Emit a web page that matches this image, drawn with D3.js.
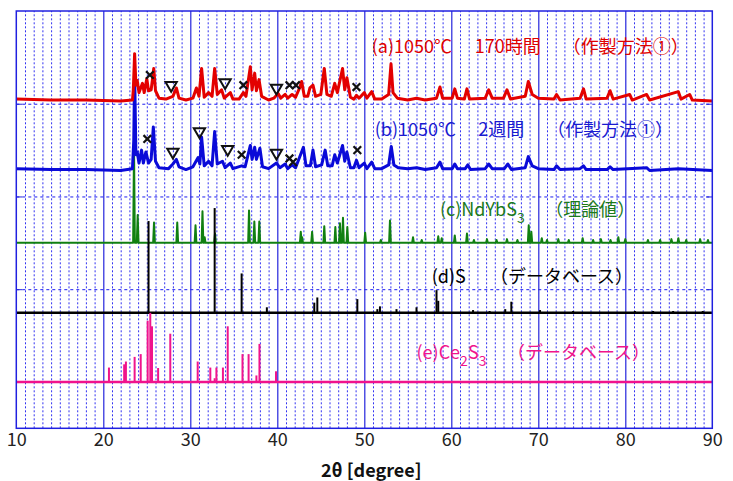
<!DOCTYPE html>
<html>
<head>
<meta charset="utf-8">
<script src="https://cdn.jsdelivr.net/npm/d3@7"></script>
<style>
  body { margin: 0; background: #fff; }
  text { font-family: "Noto Sans CJK JP", "Noto Sans", sans-serif; }
</style>
</head>
<body>
<div id="chart"></div>
<script>
/* CONSTANTS AND GLOBALS */
const width = 733,
  height = 481,
  margin = { top: 11, bottom: 52.7, left: 16.3, right: 20.7 };

// x ticks (2theta)
const xTicks = [10, 20, 30, 40, 50, 60, 70, 80, 90];
const xMinor = d3.range(11, 90).filter(d => d % 10 !== 0);
const yGrid = [0, 1, 2, 3];

// (a) 1050C 170h  -- measured profile [2theta, level]
const redProfile = [
  [10, 3.05], [14, 3.04], [18, 3.04], [22, 3.03], [23.35, 3.04], [23.45, 3.15], [23.6, 3.54], [23.75, 3.2],
  [23.9, 3.25], [24.1, 3.12], [24.5, 3.22], [24.7, 3.12], [25.0, 3.27], [25.2, 3.14], [25.5, 3.15],
  [25.8, 3.38], [26.0, 3.14], [26.4, 3.06], [27.2, 3.05], [28.0, 3.08], [28.4, 3.17], [28.7, 3.06],
  [29.5, 3.04], [30.3, 3.06], [30.7, 3.17], [31.0, 3.08], [31.3, 3.38], [31.6, 3.07], [32.1, 3.12],
  [32.5, 3.08], [32.8, 3.38], [33.1, 3.1], [33.6, 3.15], [33.9, 3.06], [34.6, 3.12], [34.9, 3.05],
  [35.6, 3.05], [36.1, 3.12], [36.4, 3.08], [36.9, 3.40], [37.1, 3.15], [37.4, 3.33], [37.6, 3.14],
  [37.9, 3.26], [38.2, 3.08], [39.0, 3.04], [39.6, 3.06], [40.1, 3.11], [40.4, 3.06], [40.9, 3.1],
  [41.2, 3.06], [41.7, 3.1], [42.1, 3.07], [42.6, 3.18], [42.8, 3.24], [43.1, 3.08], [43.5, 3.08],
  [43.75, 3.17], [44.1, 3.2], [44.4, 3.08], [45.0, 3.1], [45.4, 3.38], [45.7, 3.1], [46.2, 3.08],
  [46.6, 3.22], [46.9, 3.12], [47.5, 3.38], [47.75, 3.15], [48.0, 3.28], [48.4, 3.07], [48.8, 3.05],
  [49.1, 3.09], [49.4, 3.06], [50.0, 3.12], [50.3, 3.06], [50.85, 3.13], [51.2, 3.05], [52.0, 3.05],
  [52.8, 3.1], [53.07, 3.43], [53.3, 3.12], [53.8, 3.06], [55.0, 3.04], [56.0, 3.06], [57.0, 3.04],
  [58.3, 3.06], [58.7, 3.18], [59.0, 3.06], [60.1, 3.06], [60.4, 3.16], [60.7, 3.06], [61.5, 3.05],
  [61.8, 3.16], [62.1, 3.05], [63.9, 3.06], [64.3, 3.15], [64.7, 3.06], [66.0, 3.06], [66.4, 3.15],
  [66.8, 3.05], [68.5, 3.08], [68.85, 3.24], [69.3, 3.1], [70.0, 3.06], [71.8, 3.05], [72.1, 3.1],
  [72.5, 3.04], [74.8, 3.06], [75.2, 3.16], [75.5, 3.05], [77.9, 3.06], [78.25, 3.14], [78.6, 3.05],
  [80.5, 3.1], [80.8, 3.04], [82.45, 3.1], [82.8, 3.04], [86.1, 3.13], [86.4, 3.05], [87.4, 3.1],
  [87.7, 3.04], [90, 3.03]
];

// (b) 1050C 2 weeks
const blueProfile = [
  [10, 2.3], [14, 2.29], [18, 2.29], [22, 2.28], [23.35, 2.3], [23.5, 2.6], [23.6, 3.34], [23.75, 2.45],
  [23.9, 2.48], [24.1, 2.36], [24.4, 2.5], [24.6, 2.36], [24.9, 2.48], [25.2, 2.36], [25.5, 2.4],
  [25.75, 2.75], [26.0, 2.38], [26.4, 2.31], [27.5, 2.3], [28.0, 2.35], [28.4, 2.4], [28.7, 2.32],
  [29.5, 2.29], [30.3, 2.32], [30.9, 2.42], [31.1, 2.35], [31.3, 2.64], [31.6, 2.33], [32.1, 2.38],
  [32.5, 2.33], [32.8, 2.7], [33.1, 2.35], [33.7, 2.38], [34.0, 2.31], [34.6, 2.36], [34.9, 2.3],
  [35.9, 2.33], [36.3, 2.32], [36.9, 2.55], [37.1, 2.4], [37.4, 2.53], [37.6, 2.4], [38.0, 2.52],
  [38.3, 2.32], [39.0, 2.3], [39.9, 2.36], [40.3, 2.31], [40.9, 2.35], [41.2, 2.3], [41.7, 2.34],
  [42.1, 2.31], [43.0, 2.53], [43.3, 2.33], [43.8, 2.33], [44.1, 2.5], [44.4, 2.32], [45.1, 2.34],
  [45.5, 2.5], [45.8, 2.33], [46.3, 2.33], [46.6, 2.45], [46.9, 2.36], [47.5, 2.55], [47.75, 2.38],
  [48.0, 2.48], [48.4, 2.31], [48.8, 2.31], [49.1, 2.39], [49.4, 2.31], [50.0, 2.36], [50.3, 2.3],
  [50.85, 2.37], [51.2, 2.3], [52.0, 2.3], [52.8, 2.34], [53.1, 2.54], [53.4, 2.34], [53.9, 2.31],
  [55.0, 2.3], [56.0, 2.31], [57.0, 2.29], [58.3, 2.31], [58.7, 2.37], [59.0, 2.3], [60.1, 2.3],
  [60.4, 2.35], [60.7, 2.3], [61.6, 2.3], [61.9, 2.34], [62.2, 2.29], [63.9, 2.3], [64.3, 2.35],
  [64.7, 2.3], [66.1, 2.3], [66.5, 2.35], [66.9, 2.29], [68.5, 2.31], [68.85, 2.43], [69.3, 2.33],
  [70.0, 2.3], [71.8, 2.29], [72.1, 2.33], [72.5, 2.29], [74.8, 2.3], [75.2, 2.33], [75.5, 2.29],
  [77.9, 2.29], [78.25, 2.32], [78.6, 2.29], [82.45, 2.31], [82.8, 2.28], [86.1, 2.3], [90, 2.28]
];

// (c) NdYbS3 theoretical peaks [2theta, top level], baseline 1.5
const greenBase = 1.5;
const greenPeaks = [
  [23.53, 2.53], [23.95, 1.8], [25.83, 1.72], [28.5, 1.72], [30.6, 1.69], [31.4, 1.84], [31.65, 1.56],
  [32.84, 1.6], [36.75, 1.85], [37.36, 1.73], [37.93, 1.73], [42.7, 1.62], [42.85, 1.56], [44.0, 1.62],
  [45.4, 1.68], [46.67, 1.67], [47.2, 1.71], [47.55, 1.77], [48.05, 1.67], [50.1, 1.61], [51.9, 1.53],
  [52.95, 1.74], [55.6, 1.56], [56.6, 1.53], [58.5, 1.57], [58.9, 1.55], [60.4, 1.58], [61.8, 1.6],
  [62.6, 1.53], [64.1, 1.54], [65.2, 1.53], [66.4, 1.54], [67.6, 1.53], [68.9, 1.69], [69.2, 1.62],
  [70.4, 1.55], [71.0, 1.53], [72.3, 1.54], [73.5, 1.53], [75.1, 1.55], [76.3, 1.53], [77.2, 1.54],
  [78.3, 1.53], [79.2, 1.56], [80.0, 1.54], [82.6, 1.53], [84.0, 1.53], [85.3, 1.54], [86.1, 1.55],
  [87.0, 1.53], [88.6, 1.54], [89.5, 1.53]
];

// (d) S database sticks [2theta, intensity], baseline 0.745
const blackBase = 0.745;
const blackSticks = [
  [25.2, 0.99], [32.8, 1.13], [35.9, 0.425], [38.8, 0.06], [44.25, 0.11], [44.6, 0.166], [49.2, 0.148],
  [51.5, 0.04], [51.8, 0.07], [53.7, 0.04], [56.0, 0.06], [58.3, 0.245], [58.5, 0.13], [62.5, 0.03],
  [64.4, 0.02], [66.2, 0.04], [66.9, 0.12], [70.2, 0.03], [74.0, 0.02], [81.1, 0.02], [83.2, 0.02],
  [85.5, 0.02], [88.9, 0.02]
];

// (e) Ce2S3 database sticks, baseline 0
const pinkBase = 0;
const pinkSticks = [
  [20.65, 0.155], [22.4, 0.19], [22.6, 0.22], [23.6, 0.27], [24.3, 0.3], [25.1, 0.66], [25.4, 0.745],
  [25.6, 0.6], [26.3, 0.15], [27.7, 0.52], [30.85, 0.22], [32.3, 0.155], [32.8, 0.04], [33.0, 0.155],
  [33.75, 0.155], [34.3, 0.6], [36.0, 0.3], [36.7, 0.3], [37.6, 0.07], [37.95, 0.41], [39.85, 0.115]
];

// impurity markers [2theta, level]
const redCross = [[25.35, 3.31], [36.1, 3.2], [41.4, 3.2], [42.15, 3.2], [49.1, 3.18]];
const redTri = [[27.8, 3.2], [34.0, 3.23], [39.9, 3.17]];
const blueCross = [[25.06, 2.62], [35.9, 2.45], [41.4, 2.41], [41.8, 2.37], [49.2, 2.5]];
const blueTri = [[28.0, 2.48], [31.05, 2.7], [34.3, 2.51], [39.9, 2.47]];

// labels: pieces of [text, isSubscript], each group starts at a 2theta position
const labels = [
  { y: 3.55, color: "#e00000", groups: [[50.85, [["(a)1050℃"]]], [62.7, [["170時間"]]], [72.8, [["（作製方法①）"]]]] },
  { y: 2.65, color: "#1a1ad0", groups: [[51.2, [["(b)1050℃"]]], [63.1, [["2週間"]]], [71.0, [["（作製方法①）"]]]] },
  { y: 1.79, color: "#1c7a1c", groups: [[58.7, [["(c)NdYbS"], ["3", true]]], [70.8, [["（理論値）"]]]] },
  { y: 1.065, color: "#000", groups: [[57.75, [["(d)S"]]], [64.45, [["（データベース）"]]]] },
  { y: 0.25, color: "#f0148c", groups: [[56.0, [["(e)Ce"], ["2", true], ["S"], ["3", true]]], [66.4, [["（データベース）"]]]] }
];

/* SCALES */
const xScale = d3.scaleLinear()
  .domain([10, 90])
  .range([margin.left, width - margin.right]);

const yScale = d3.scaleLinear()
  .domain([-0.5, 4])
  .range([height - margin.bottom, margin.top]);

const svg = d3.select("#chart")
  .append("svg")
  .attr("width", width)
  .attr("height", height);

const gridColor = "#1c1cf0";

// minor vertical gridlines (dotted)
svg.append("g")
  .attr("transform", `translate(0, ${height - margin.bottom})`)
  .call(d3.axisBottom(xScale).tickValues(xMinor).tickSize(-(height - margin.top - margin.bottom)).tickFormat(""))
  .call(g => g.select(".domain").remove())
  .call(g => g.selectAll("line").attr("stroke", gridColor).attr("stroke-dasharray", "2,2").attr("opacity", 0.9));

// horizontal gridlines (dotted)
svg.append("g")
  .attr("transform", `translate(${margin.left}, 0)`)
  .call(d3.axisLeft(yScale).tickValues(yGrid).tickSize(-(width - margin.left - margin.right)).tickFormat(""))
  .call(g => g.select(".domain").remove())
  .call(g => g.selectAll("line").attr("stroke", gridColor).attr("stroke-dasharray", "3,3"));

// major vertical gridlines (solid)
svg.append("g")
  .attr("transform", `translate(0, ${height - margin.bottom})`)
  .call(d3.axisBottom(xScale).tickValues(xTicks.slice(1, -1)).tickSize(-(height - margin.top - margin.bottom)).tickFormat(""))
  .call(g => g.select(".domain").remove())
  .call(g => g.selectAll("line").attr("stroke", "#2525dd").attr("stroke-width", 1.2));

// small inside ticks on both sides
svg.append("g")
  .attr("transform", `translate(${margin.left}, 0)`)
  .call(d3.axisRight(yScale).tickValues(yGrid).tickSize(6).tickFormat(""))
  .call(g => g.select(".domain").remove())
  .call(g => g.selectAll("line").attr("stroke", "#2525dd"));
svg.append("g")
  .attr("transform", `translate(${width - margin.right}, 0)`)
  .call(d3.axisLeft(yScale).tickValues(yGrid).tickSize(6).tickFormat(""))
  .call(g => g.select(".domain").remove())
  .call(g => g.selectAll("line").attr("stroke", "#2525dd"));

// x axis labels
const xAxis = d3.axisBottom(xScale).tickValues(xTicks).tickSize(0).tickPadding(5);
svg.append("g")
  .attr("transform", `translate(0, ${height - margin.bottom})`)
  .call(xAxis)
  .call(g => g.select(".domain").remove())
  .call(g => g.selectAll("text")
    .attr("font-family", "'Noto Sans CJK JP', sans-serif")
    .attr("font-size", 18)
    .attr("fill", "#222"));

svg.append("text")
  .attr("x", xScale(50.8))
  .attr("y", 477)
  .attr("text-anchor", "middle")
  .attr("font-size", 18)
  .attr("font-weight", "bold")
  .attr("fill", "#111")
  .text("2θ [degree]");

/* SERIES */
const lineGen = d3.line()
  .x(d => xScale(d[0]))
  .y(d => yScale(d[1]));

// stick baselines
[[pinkBase, "#f0148c"], [blackBase, "#000"]].forEach(([b, c]) => {
  svg.append("line")
    .attr("x1", xScale(10)).attr("x2", xScale(90))
    .attr("y1", yScale(b)).attr("y2", yScale(b))
    .attr("stroke", c).attr("stroke-width", 2.5);
});

svg.append("g")
  .selectAll("line")
  .data(pinkSticks)
  .join("line")
  .attr("x1", d => xScale(d[0])).attr("x2", d => xScale(d[0]))
  .attr("y1", yScale(pinkBase)).attr("y2", d => yScale(pinkBase + d[1]))
  .attr("stroke", "#f0148c").attr("stroke-width", 2);

// green theoretical pattern: narrow peaks on baseline
const greenPts = [[10, greenBase]];
greenPeaks.forEach(p => {
  greenPts.push([p[0] - 0.1, greenBase], [p[0], p[1]], [p[0] + 0.1, greenBase]);
});
greenPts.push([90, greenBase]);
svg.append("path")
  .datum(greenPts)
  .attr("fill", "none")
  .attr("stroke", "#118011")
  .attr("stroke-width", 2)
  .attr("stroke-linejoin", "round")
  .attr("d", lineGen);

svg.append("g")
  .selectAll("line")
  .data(blackSticks)
  .join("line")
  .attr("x1", d => xScale(d[0])).attr("x2", d => xScale(d[0]))
  .attr("y1", yScale(blackBase)).attr("y2", d => yScale(blackBase + d[1]))
  .attr("stroke", "#000").attr("stroke-width", 2);

svg.append("path")
  .datum(blueProfile)
  .attr("fill", "none")
  .attr("stroke", "#0a0ad8")
  .attr("stroke-width", 3)
  .attr("stroke-linejoin", "round")
  .attr("d", lineGen);

svg.append("path")
  .datum(redProfile)
  .attr("fill", "none")
  .attr("stroke", "#e30000")
  .attr("stroke-width", 3)
  .attr("stroke-linejoin", "round")
  .attr("d", lineGen);

/* MARKERS */
const cross = d3.symbol().type(d3.symbolX).size(40);
const tri = d3.symbol().type(d3.symbolTriangle).size(55);
svg.append("g")
  .selectAll("path")
  .data(redCross.concat(blueCross))
  .join("path")
  .attr("transform", d => `translate(${xScale(d[0])}, ${yScale(d[1])})`)
  .attr("d", cross)
  .attr("fill", "none")
  .attr("stroke", "#111")
  .attr("stroke-width", 2.2);
svg.append("g")
  .selectAll("path")
  .data(redTri.concat(blueTri))
  .join("path")
  .attr("transform", d => `translate(${xScale(d[0])}, ${yScale(d[1])}) rotate(180)`)
  .attr("d", tri)
  .attr("fill", "none")
  .attr("stroke", "#111")
  .attr("stroke-width", 2);

/* LABELS */
labels.forEach(l => {
  l.groups.forEach(([gx, pieces]) => {
    const t = svg.append("text")
      .attr("x", xScale(gx))
      .attr("y", yScale(l.y))
      .attr("fill", l.color)
      .attr("font-size", 18);
    let low = false;
    pieces.forEach(([s, sub]) => {
      const shift = (sub ? 7 : 0) - (low ? 7 : 0);
      t.append("tspan")
        .attr("dy", shift)
        .attr("font-size", sub ? 14 : 18)
        .text(s);
      low = !!sub;
    });
  });
});

// frame
svg.append("rect")
  .attr("x", margin.left)
  .attr("y", margin.top)
  .attr("width", width - margin.left - margin.right)
  .attr("height", height - margin.top - margin.bottom)
  .attr("fill", "none")
  .attr("stroke", "#2020e0")
  .attr("stroke-width", 1.5);
</script>
</body>
</html>
